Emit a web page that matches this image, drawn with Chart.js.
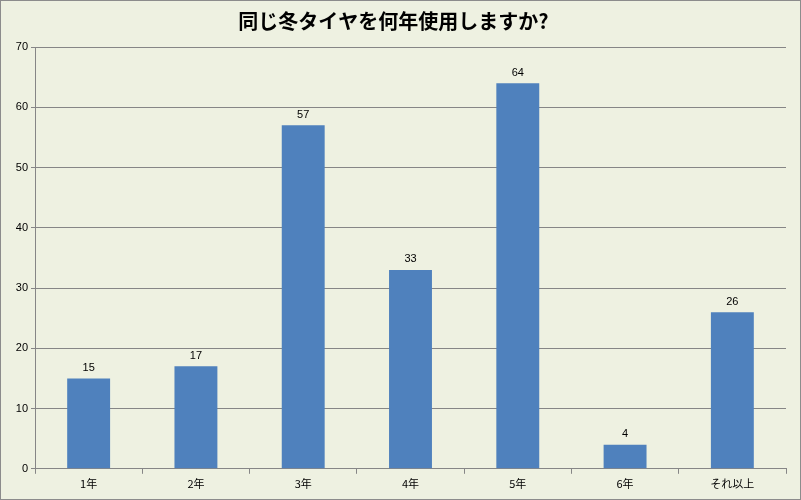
<!DOCTYPE html>
<html><head><meta charset="utf-8">
<script src="https://cdn.jsdelivr.net/npm/chart.js@4"></script>
<style>html,body{margin:0;padding:0;background:#fff}#w{width:801px;height:500px;box-sizing:border-box;border:1px solid #8c8c8c;background:#EEF1E1}</style>
</head><body><div id="w"><canvas id="c"></canvas></div>
<script>
const titleText = "同じ冬タイヤを何年使用しますか?";
const categories = ["1年","2年","3年","4年","5年","6年","それ以上"];
const values = [15,17,57,33,64,4,26];
const yTicks = [0,10,20,30,40,50,60,70];
const labelPlugin = {id:'lbl',afterDatasetsDraw(ch){const ctx=ch.ctx;const m=ch.getDatasetMeta(0);ctx.save();ctx.font='11px "Liberation Sans", Arial';ctx.fillStyle='#000';ctx.textAlign='center';ctx.textBaseline='bottom';m.data.forEach((b,i)=>ctx.fillText(values[i],b.x,b.y-5));ctx.restore();}};
new Chart(document.getElementById('c'),{type:'bar',
data:{labels:categories,datasets:[{data:values,backgroundColor:'#4F81BD',barPercentage:0.4,categoryPercentage:1}]},
options:{responsive:true,maintainAspectRatio:false,animation:false,
layout:{padding:{left:0,right:14,top:0,bottom:6}},
plugins:{legend:{display:false},tooltip:{enabled:false},
title:{display:true,text:titleText,color:'#000',font:{size:20,weight:'bold',family:'"Noto Sans CJK JP"'},padding:{top:8,bottom:14}}},
scales:{x:{grid:{display:true,drawOnChartArea:false,color:'#868686',tickLength:5,offset:true},border:{color:'#868686'},ticks:{color:'#000',font:{size:11,family:'"Noto Sans CJK JP"'}}},
y:{min:0,max:70,afterFit(s){s.width=34;},afterBuildTicks(s){s.ticks=yTicks.map(v=>({value:v}));},grid:{color:'#868686',tickLength:4},border:{color:'#868686'},ticks:{color:'#000',font:{size:11,family:'"Liberation Sans"'},padding:3}}}},
plugins:[labelPlugin]});
</script></body></html>
